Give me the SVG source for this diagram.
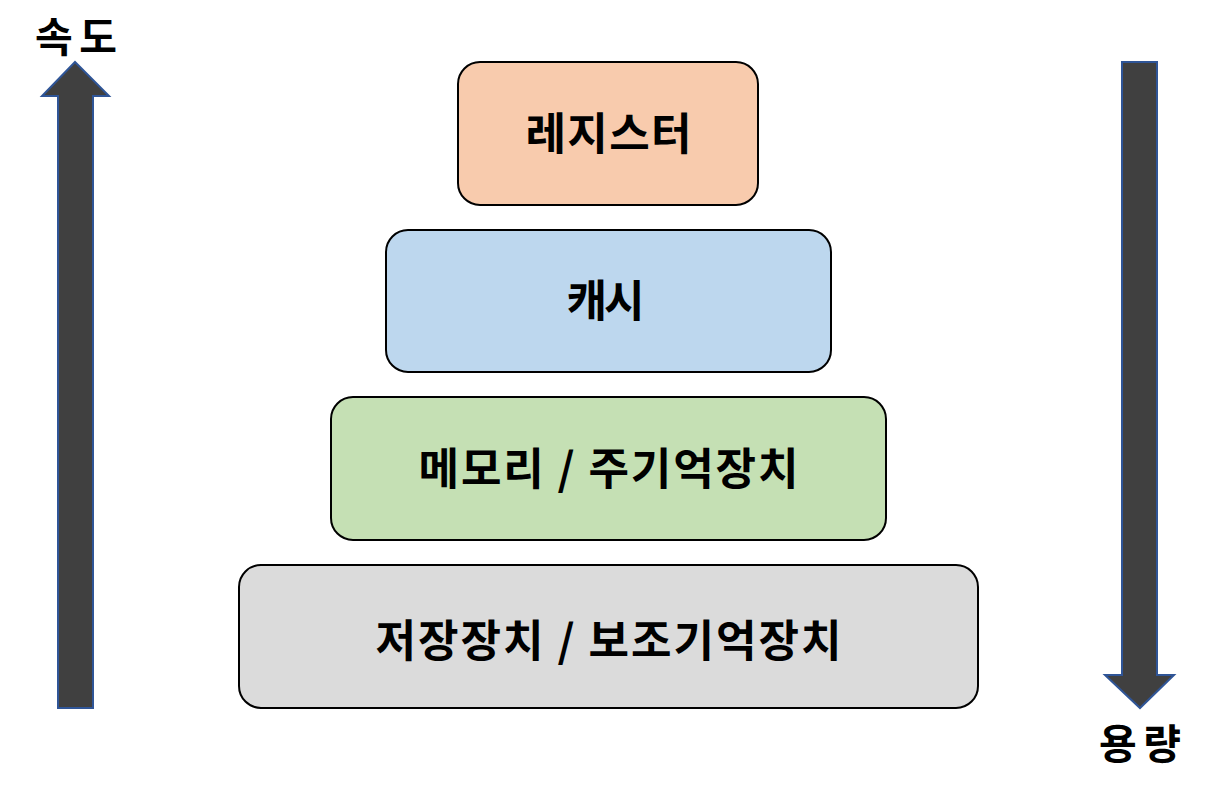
<svg xmlns="http://www.w3.org/2000/svg" width="1216" height="791" viewBox="0 0 1216 791">
<style>
.box{stroke:#000;stroke-width:2}
.t{font-family:"Noto Sans CJK KR","Noto Sans",sans-serif;font-weight:bold;font-size:44px;text-anchor:middle;fill:#000}
.lab{font-family:"Noto Sans CJK KR","Noto Sans",sans-serif;font-weight:bold;font-size:41px;text-anchor:middle;fill:#000}
.arr{fill:#404040;stroke:#2F5597;stroke-width:2}
</style>
<rect width="1216" height="791" fill="#fff"/>
<g id="connectors">
<polygon class="arr" points="58,708 58,96 42,96 75,62 109,96 93,96 93,708"/>
<polygon class="arr" points="1122,62 1157,62 1157,675 1174,675 1140,708 1105,675 1122,675"/>
</g>
<g id="speed"><text class="lab" x="76" y="52" textLength="82" lengthAdjust="spacing">속도</text></g>
<g id="capacity"><text class="lab" x="1140" y="759" textLength="82" lengthAdjust="spacing">용량</text></g>
<g id="register"><rect class="box" x="458" y="62" width="300" height="143" rx="22" fill="#F8CBAD"/><text class="t" x="608.5" y="149.5" textLength="166" lengthAdjust="spacing">레지스터</text></g>
<g id="cache"><rect class="box" x="386" y="230" width="445" height="142" rx="22" fill="#BDD7EE"/><text class="t" x="605.5" y="316.5" textLength="78" lengthAdjust="spacing">캐시</text></g>
<g id="memory"><rect class="box" x="331" y="397" width="555" height="143" rx="22" fill="#C5E0B4"/><text class="t" x="608.5" y="484.5" textLength="380" lengthAdjust="spacing">메모리 / 주기억장치</text></g>
<g id="storage"><rect class="box" x="239" y="565" width="739" height="143" rx="22" fill="#DBDBDB"/><text class="t" x="608.5" y="656.5" textLength="466" lengthAdjust="spacing">저장장치 / 보조기억장치</text></g>
</svg>
